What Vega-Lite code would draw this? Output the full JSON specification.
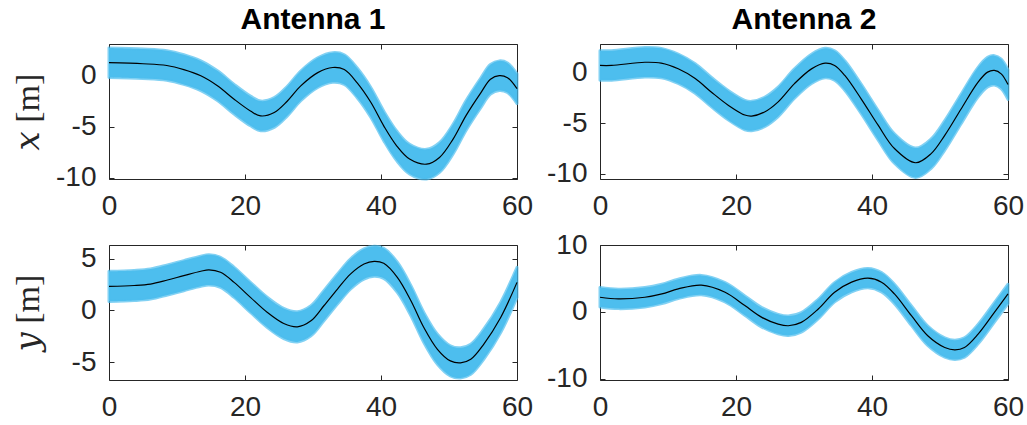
{
  "$schema": "https://vega.github.io/schema/vega-lite/v6.json",
  "background": "white",
  "padding": {"left": 10, "top": 4, "right": 5, "bottom": 5},
  "config": {
    "font": "Liberation Sans",
    "view": {"stroke": "#262626", "strokeWidth": 1},
    "axis": {
      "labelFont": "Liberation Sans",
      "labelFontSize": 28,
      "labelColor": "#262626",
      "labelExpr": "'' + datum.value",
      "tickColor": "#262626",
      "tickSize": -5,
      "domain": false,
      "grid": false,
      "labelFlush": false,
      "labelPadding": 18
    },
    "axisX": {"labelPadding": 18},
    "title": {
      "fontSize": 30,
      "fontWeight": "bold",
      "color": "black",
      "baseline": "alphabetic",
      "offset": 9,
      "anchor": "middle"
    },
    "area": {"color": "#4DBEEE", "opacity": 1, "stroke": "#4DBEEE", "strokeWidth": 3, "strokeOpacity": 0.7, "strokeJoin": "round", "interpolate": "catmull-rom", "clip": true},
    "line": {"color": "black", "strokeWidth": 1.2, "interpolate": "catmull-rom", "clip": true}
  },
  "datasets": {
    "traj": [
      {"p": "a1x", "t": 0, "v": 1.27, "lo": -0.18, "hi": 2.72},
      {"p": "a1x", "t": 5, "v": 1.17, "lo": -0.28, "hi": 2.62},
      {"p": "a1x", "t": 8.5, "v": 1.0, "lo": -0.45, "hi": 2.45},
      {"p": "a1x", "t": 11, "v": 0.6, "lo": -0.85, "hi": 2.05},
      {"p": "a1x", "t": 13.5, "v": 0.0, "lo": -1.45, "hi": 1.45},
      {"p": "a1x", "t": 16, "v": -1.0, "lo": -2.45, "hi": 0.45},
      {"p": "a1x", "t": 18.4, "v": -2.3, "lo": -3.75, "hi": -0.85},
      {"p": "a1x", "t": 20.8, "v": -3.45, "lo": -4.9, "hi": -2.0},
      {"p": "a1x", "t": 22.3, "v": -3.93, "lo": -5.38, "hi": -2.48},
      {"p": "a1x", "t": 24.3, "v": -3.6, "lo": -5.05, "hi": -2.15},
      {"p": "a1x", "t": 26.2, "v": -2.5, "lo": -3.95, "hi": -1.05},
      {"p": "a1x", "t": 28.2, "v": -1.0, "lo": -2.45, "hi": 0.45},
      {"p": "a1x", "t": 30.7, "v": 0.3, "lo": -1.15, "hi": 1.75},
      {"p": "a1x", "t": 32.9, "v": 0.8, "lo": -0.65, "hi": 2.25},
      {"p": "a1x", "t": 34.6, "v": 0.6, "lo": -0.85, "hi": 2.05},
      {"p": "a1x", "t": 36.5, "v": -0.7, "lo": -2.15, "hi": 0.75},
      {"p": "a1x", "t": 38.5, "v": -2.6, "lo": -4.05, "hi": -1.15},
      {"p": "a1x", "t": 40.4, "v": -4.9, "lo": -6.35, "hi": -3.45},
      {"p": "a1x", "t": 42.3, "v": -6.85, "lo": -8.3, "hi": -5.4},
      {"p": "a1x", "t": 44.2, "v": -8.15, "lo": -9.6, "hi": -6.7},
      {"p": "a1x", "t": 46.7, "v": -8.65, "lo": -10.1, "hi": -7.2},
      {"p": "a1x", "t": 48.6, "v": -8.0, "lo": -9.45, "hi": -6.55},
      {"p": "a1x", "t": 50.6, "v": -6.2, "lo": -7.65, "hi": -4.75},
      {"p": "a1x", "t": 52.5, "v": -3.9, "lo": -5.35, "hi": -2.45},
      {"p": "a1x", "t": 54.7, "v": -1.65, "lo": -3.1, "hi": -0.2},
      {"p": "a1x", "t": 56.1, "v": -0.35, "lo": -1.8, "hi": 1.1},
      {"p": "a1x", "t": 57.4, "v": 0.0, "lo": -1.45, "hi": 1.45},
      {"p": "a1x", "t": 58.6, "v": -0.2, "lo": -1.65, "hi": 1.25},
      {"p": "a1x", "t": 60, "v": -1.27, "lo": -2.72, "hi": 0.18},

      {"p": "a2x", "t": 0, "v": 0.69, "lo": -0.76, "hi": 2.14},
      {"p": "a2x", "t": 1.7, "v": 0.69, "lo": -0.76, "hi": 2.14},
      {"p": "a2x", "t": 6.6, "v": 1.0, "lo": -0.45, "hi": 2.45},
      {"p": "a2x", "t": 9, "v": 0.92, "lo": -0.53, "hi": 2.37},
      {"p": "a2x", "t": 11.5, "v": 0.36, "lo": -1.09, "hi": 1.81},
      {"p": "a2x", "t": 14, "v": -0.6, "lo": -2.05, "hi": 0.85},
      {"p": "a2x", "t": 16.4, "v": -1.95, "lo": -3.4, "hi": -0.5},
      {"p": "a2x", "t": 18.9, "v": -3.25, "lo": -4.7, "hi": -1.8},
      {"p": "a2x", "t": 21.3, "v": -4.2, "lo": -5.65, "hi": -2.75},
      {"p": "a2x", "t": 22.3, "v": -4.3, "lo": -5.75, "hi": -2.85},
      {"p": "a2x", "t": 24.2, "v": -3.9, "lo": -5.35, "hi": -2.45},
      {"p": "a2x", "t": 26.2, "v": -2.9, "lo": -4.35, "hi": -1.45},
      {"p": "a2x", "t": 28.6, "v": -1.1, "lo": -2.55, "hi": 0.35},
      {"p": "a2x", "t": 31.1, "v": 0.35, "lo": -1.1, "hi": 1.8},
      {"p": "a2x", "t": 33.1, "v": 0.92, "lo": -0.53, "hi": 2.37},
      {"p": "a2x", "t": 34.5, "v": 0.69, "lo": -0.76, "hi": 2.14},
      {"p": "a2x", "t": 36, "v": -0.3, "lo": -1.75, "hi": 1.15},
      {"p": "a2x", "t": 38.4, "v": -2.6, "lo": -4.05, "hi": -1.15},
      {"p": "a2x", "t": 40.9, "v": -5.2, "lo": -6.65, "hi": -3.75},
      {"p": "a2x", "t": 43.3, "v": -7.5, "lo": -8.95, "hi": -6.05},
      {"p": "a2x", "t": 46.4, "v": -8.9, "lo": -10.35, "hi": -7.45},
      {"p": "a2x", "t": 48.7, "v": -8.0, "lo": -9.45, "hi": -6.55},
      {"p": "a2x", "t": 50.7, "v": -6.2, "lo": -7.65, "hi": -4.75},
      {"p": "a2x", "t": 53.1, "v": -3.6, "lo": -5.05, "hi": -2.15},
      {"p": "a2x", "t": 55.6, "v": -0.95, "lo": -2.4, "hi": 0.5},
      {"p": "a2x", "t": 57, "v": 0.03, "lo": -1.42, "hi": 1.48},
      {"p": "a2x", "t": 58, "v": 0.2, "lo": -1.25, "hi": 1.65},
      {"p": "a2x", "t": 59, "v": -0.14, "lo": -1.59, "hi": 1.31},
      {"p": "a2x", "t": 60, "v": -1.2, "lo": -2.65, "hi": 0.25},

      {"p": "a1y", "t": 0, "v": 2.32, "lo": 0.87, "hi": 3.77},
      {"p": "a1y", "t": 3.7, "v": 2.4, "lo": 0.95, "hi": 3.85},
      {"p": "a1y", "t": 6.1, "v": 2.54, "lo": 1.09, "hi": 3.99},
      {"p": "a1y", "t": 8.6, "v": 2.93, "lo": 1.48, "hi": 4.38},
      {"p": "a1y", "t": 11, "v": 3.35, "lo": 1.9, "hi": 4.8},
      {"p": "a1y", "t": 13.5, "v": 3.77, "lo": 2.32, "hi": 5.22},
      {"p": "a1y", "t": 14.7, "v": 3.9, "lo": 2.45, "hi": 5.35},
      {"p": "a1y", "t": 16.4, "v": 3.67, "lo": 2.22, "hi": 5.12},
      {"p": "a1y", "t": 18.4, "v": 2.7, "lo": 1.25, "hi": 4.15},
      {"p": "a1y", "t": 20.8, "v": 1.26, "lo": -0.19, "hi": 2.71},
      {"p": "a1y", "t": 23.3, "v": -0.2, "lo": -1.65, "hi": 1.25},
      {"p": "a1y", "t": 25.7, "v": -1.26, "lo": -2.71, "hi": 0.19},
      {"p": "a1y", "t": 27.7, "v": -1.58, "lo": -3.03, "hi": -0.13},
      {"p": "a1y", "t": 29.7, "v": -1.0, "lo": -2.45, "hi": 0.45},
      {"p": "a1y", "t": 31.6, "v": 0.45, "lo": -1.0, "hi": 1.9},
      {"p": "a1y", "t": 33.6, "v": 2.06, "lo": 0.61, "hi": 3.51},
      {"p": "a1y", "t": 35.5, "v": 3.5, "lo": 2.05, "hi": 4.95},
      {"p": "a1y", "t": 37.5, "v": 4.47, "lo": 3.02, "hi": 5.92},
      {"p": "a1y", "t": 39, "v": 4.73, "lo": 3.28, "hi": 6.18},
      {"p": "a1y", "t": 40.4, "v": 4.54, "lo": 3.09, "hi": 5.99},
      {"p": "a1y", "t": 42.4, "v": 3.19, "lo": 1.74, "hi": 4.64},
      {"p": "a1y", "t": 44.4, "v": 0.94, "lo": -0.51, "hi": 2.39},
      {"p": "a1y", "t": 46.3, "v": -1.64, "lo": -3.09, "hi": -0.19},
      {"p": "a1y", "t": 48.3, "v": -3.74, "lo": -5.19, "hi": -2.29},
      {"p": "a1y", "t": 50.2, "v": -4.86, "lo": -6.31, "hi": -3.41},
      {"p": "a1y", "t": 51.7, "v": -5.05, "lo": -6.5, "hi": -3.6},
      {"p": "a1y", "t": 53.2, "v": -4.7, "lo": -6.15, "hi": -3.25},
      {"p": "a1y", "t": 55.1, "v": -3.26, "lo": -4.71, "hi": -1.81},
      {"p": "a1y", "t": 57.6, "v": -0.68, "lo": -2.13, "hi": 0.77},
      {"p": "a1y", "t": 60, "v": 2.7, "lo": 1.25, "hi": 4.15},

      {"p": "a2y", "t": 0, "v": 2.18, "lo": 0.73, "hi": 3.63},
      {"p": "a2y", "t": 2.7, "v": 1.93, "lo": 0.48, "hi": 3.38},
      {"p": "a2y", "t": 6.6, "v": 2.18, "lo": 0.73, "hi": 3.63},
      {"p": "a2y", "t": 9.1, "v": 2.68, "lo": 1.23, "hi": 4.13},
      {"p": "a2y", "t": 11.5, "v": 3.43, "lo": 1.98, "hi": 4.88},
      {"p": "a2y", "t": 14.9, "v": 4.0, "lo": 2.55, "hi": 5.45},
      {"p": "a2y", "t": 18.4, "v": 2.93, "lo": 1.48, "hi": 4.38},
      {"p": "a2y", "t": 21.3, "v": 0.93, "lo": -0.52, "hi": 2.38},
      {"p": "a2y", "t": 23.8, "v": -0.83, "lo": -2.28, "hi": 0.62},
      {"p": "a2y", "t": 26.2, "v": -1.83, "lo": -3.28, "hi": -0.38},
      {"p": "a2y", "t": 27.7, "v": -2.08, "lo": -3.53, "hi": -0.63},
      {"p": "a2y", "t": 29.6, "v": -1.58, "lo": -3.03, "hi": -0.13},
      {"p": "a2y", "t": 32.1, "v": 0.42, "lo": -1.03, "hi": 1.87},
      {"p": "a2y", "t": 34.5, "v": 2.93, "lo": 1.48, "hi": 4.38},
      {"p": "a2y", "t": 37, "v": 4.44, "lo": 2.99, "hi": 5.89},
      {"p": "a2y", "t": 39.4, "v": 5.04, "lo": 3.59, "hi": 6.49},
      {"p": "a2y", "t": 41.4, "v": 4.44, "lo": 2.99, "hi": 5.89},
      {"p": "a2y", "t": 43.3, "v": 2.68, "lo": 1.23, "hi": 4.13},
      {"p": "a2y", "t": 45.8, "v": -0.58, "lo": -2.03, "hi": 0.87},
      {"p": "a2y", "t": 48.2, "v": -3.58, "lo": -5.03, "hi": -2.13},
      {"p": "a2y", "t": 50.7, "v": -5.34, "lo": -6.79, "hi": -3.89},
      {"p": "a2y", "t": 52.2, "v": -5.69, "lo": -7.14, "hi": -4.24},
      {"p": "a2y", "t": 53.6, "v": -5.34, "lo": -6.79, "hi": -3.89},
      {"p": "a2y", "t": 55.6, "v": -3.34, "lo": -4.79, "hi": -1.89},
      {"p": "a2y", "t": 58, "v": -0.08, "lo": -1.53, "hi": 1.37},
      {"p": "a2y", "t": 60, "v": 2.68, "lo": 1.23, "hi": 4.13}
    ]
  },
  "columns": 2,
  "spacing": {"row": 66, "column": 83},
  "bounds": "flush",
  "concat": [
    {
      "width": 408, "height": 135,
      "title": {"text": "Antenna 1"},
      "data": {"name": "traj"},
      "transform": [{"filter": "datum.p === 'a1x'"}],
      "layer": [
        {
          "mark": {"type": "area"},
          "encoding": {
            "x": {"field": "t", "type": "quantitative", "scale": {"domain": [0, 60], "nice": false}, "axis": {"orient": "bottom", "values": [0, 20, 40, 60], "title": null}},
            "y": {"field": "lo", "type": "quantitative", "scale": {"domain": [-10.1, 3.1], "nice": false, "zero": false},
                  "axis": {"orient": "left", "values": [-10, -5, 0], "title": "𝑥 [m]", "titleFont": "Liberation Serif, DejaVu Serif", "titleFontSize": 34, "titleFontWeight": "normal", "titleColor": "#262626", "titleAngle": -90, "titleX": -71, "titleY": 67.5, "titleAlign": "center", "titleBaseline": "alphabetic"}},
            "y2": {"field": "hi"}
          }
        },
        {
          "mark": {"type": "line"},
          "encoding": {
            "x": {"field": "t", "type": "quantitative", "axis": {"orient": "top", "values": [0, 20, 40, 60], "labels": false, "title": null}},
            "y": {"field": "v", "type": "quantitative", "axis": {"orient": "right", "values": [-10, -5, 0], "labels": false, "title": null}}
          }
        }
      ],
      "resolve": {"axis": {"x": "independent", "y": "independent"}}
    },
    {
      "width": 408, "height": 135,
      "title": {"text": "Antenna 2"},
      "data": {"name": "traj"},
      "transform": [{"filter": "datum.p === 'a2x'"}],
      "layer": [
        {
          "mark": {"type": "area"},
          "encoding": {
            "x": {"field": "t", "type": "quantitative", "scale": {"domain": [0, 60], "nice": false}, "axis": {"orient": "bottom", "values": [0, 20, 40, 60], "title": null}},
            "y": {"field": "lo", "type": "quantitative", "scale": {"domain": [-10.5, 2.8], "nice": false, "zero": false}, "axis": {"orient": "left", "values": [-10, -5, 0], "title": null}},
            "y2": {"field": "hi"}
          }
        },
        {
          "mark": {"type": "line"},
          "encoding": {
            "x": {"field": "t", "type": "quantitative", "axis": {"orient": "top", "values": [0, 20, 40, 60], "labels": false, "title": null}},
            "y": {"field": "v", "type": "quantitative", "axis": {"orient": "right", "values": [-10, -5, 0], "labels": false, "title": null}}
          }
        }
      ],
      "resolve": {"axis": {"x": "independent", "y": "independent"}}
    },
    {
      "width": 408, "height": 135,
      "data": {"name": "traj"},
      "transform": [{"filter": "datum.p === 'a1y'"}],
      "layer": [
        {
          "mark": {"type": "area"},
          "encoding": {
            "x": {"field": "t", "type": "quantitative", "scale": {"domain": [0, 60], "nice": false}, "axis": {"orient": "bottom", "values": [0, 20, 40, 60], "title": null}},
            "y": {"field": "lo", "type": "quantitative", "scale": {"domain": [-6.7, 6.3], "nice": false, "zero": false},
                  "axis": {"orient": "left", "values": [-5, 0, 5], "title": "𝑦 [m]", "titleFont": "Liberation Serif, DejaVu Serif", "titleFontSize": 34, "titleFontWeight": "normal", "titleColor": "#262626", "titleAngle": -90, "titleX": -71, "titleY": 67.5, "titleAlign": "center", "titleBaseline": "alphabetic"}},
            "y2": {"field": "hi"}
          }
        },
        {
          "mark": {"type": "line"},
          "encoding": {
            "x": {"field": "t", "type": "quantitative", "axis": {"orient": "top", "values": [0, 20, 40, 60], "labels": false, "title": null}},
            "y": {"field": "v", "type": "quantitative", "axis": {"orient": "right", "values": [-5, 0, 5], "labels": false, "title": null}}
          }
        }
      ],
      "resolve": {"axis": {"x": "independent", "y": "independent"}}
    },
    {
      "width": 408, "height": 135,
      "data": {"name": "traj"},
      "transform": [{"filter": "datum.p === 'a2y'"}],
      "layer": [
        {
          "mark": {"type": "area"},
          "encoding": {
            "x": {"field": "t", "type": "quantitative", "scale": {"domain": [0, 60], "nice": false}, "axis": {"orient": "bottom", "values": [0, 20, 40, 60], "title": null}},
            "y": {"field": "lo", "type": "quantitative", "scale": {"domain": [-10.2, 10], "nice": false, "zero": false}, "axis": {"orient": "left", "values": [-10, 0, 10], "title": null}},
            "y2": {"field": "hi"}
          }
        },
        {
          "mark": {"type": "line"},
          "encoding": {
            "x": {"field": "t", "type": "quantitative", "axis": {"orient": "top", "values": [0, 20, 40, 60], "labels": false, "title": null}},
            "y": {"field": "v", "type": "quantitative", "axis": {"orient": "right", "values": [-10, 0, 10], "labels": false, "title": null}}
          }
        }
      ],
      "resolve": {"axis": {"x": "independent", "y": "independent"}}
    }
  ]
}
